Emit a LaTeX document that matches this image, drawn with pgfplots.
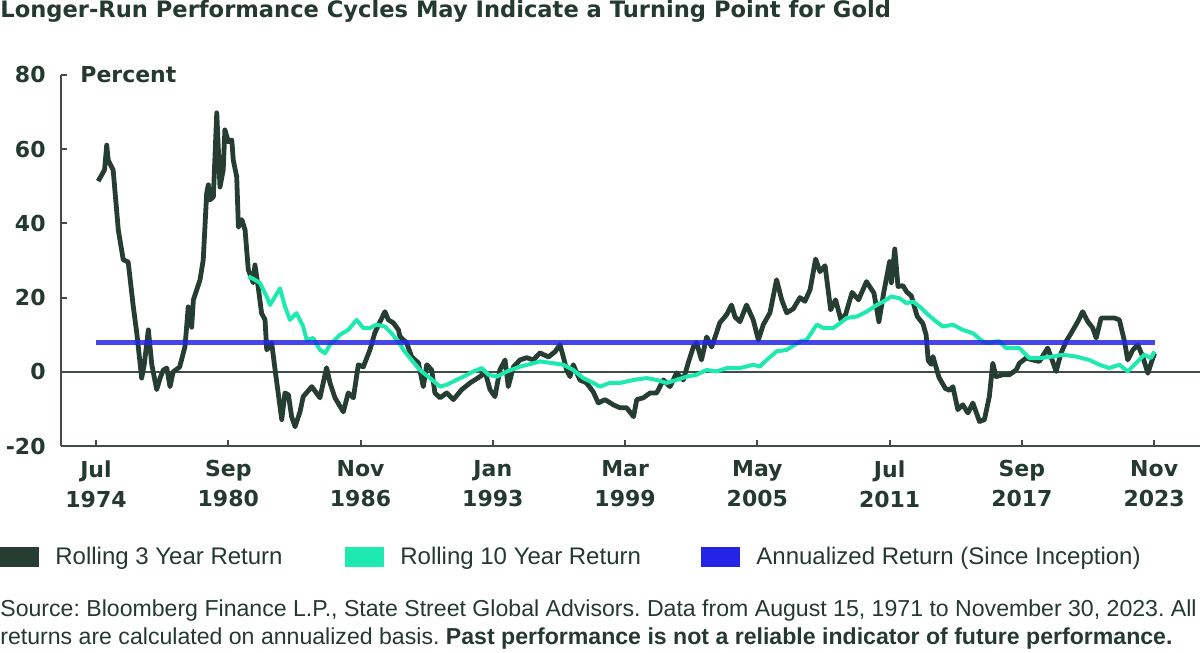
\documentclass[border=0pt]{standalone}
\usepackage{pgfplots}
\pgfplotsset{compat=1.18}
\usepackage{fontspec}
\setmainfont{Liberation Sans}
\newfontfamily\boldf{DejaVu Sans}
\frenchspacing
\definecolor{darkg}{HTML}{263D32}
\definecolor{tealg}{HTML}{1EEAB0}
\definecolor{blueg}{HTML}{2424E6}
\definecolor{txt}{HTML}{24392F}
\definecolor{axc}{HTML}{3E4E46}
\begin{document}
\begin{tikzpicture}
\useasboundingbox (0,0) rectangle (600pt,326.5pt);
\begin{axis}[
  at={(30.5pt,103.5pt)}, anchor=south west,
  scale only axis, width=569.5pt, height=185.5pt,
  xmin=1972.868, xmax=2025.97, ymin=-20, ymax=80,
  axis x line*=bottom, axis y line*=left,
  axis line style={-, axc, line width=1pt},
  tick style={axc, line width=1pt}, major tick length=3pt,
  tick align=inside,
  ytick={-20,0,20,40,60,80},
  yticklabels={-20,0,20,40,60,80},
  yticklabel style={inner sep=0pt, xshift=-7.5pt, font=\boldf\fontsize{11}{13}\selectfont\bfseries, text=txt},
  xtick={1974.5,1980.6667,1986.8333,1993.0,1999.1667,2005.3333,2011.5,2017.6667,2023.8333},
  xticklabels={{Jul\\1974},{Sep\\1980},{Nov\\1986},{Jan\\1993},{Mar\\1999},{May\\2005},{Jul\\2011},{Sep\\2017},{Nov\\2023}},
  xticklabel style={anchor=north, inner sep=0pt, yshift=-7pt, align=center, font=\boldf\fontsize{11}{15}\selectfont\bfseries, text=txt},
  clip=false,
]
\addplot[axc, line width=0.9pt, forget plot] coordinates {(1972.868,0) (2025.97,0)};
\addplot[darkg, line width=2.4pt, line join=round] coordinates {
(1974.6,51.4)(1974.76,53)(1974.9,54.5)(1975.0,61.1)(1975.07,57)(1975.3,54.4)(1975.54,38.2)(1975.77,30.2)(1976.0,29.6)(1976.24,17.5)(1976.4,10.5)(1976.63,-1.7)(1976.75,2)(1976.94,11.3)(1977.1,2)(1977.33,-4.8)(1977.5,-1.5)(1977.64,0.5)(1977.8,1)(1977.95,-4)(1978.1,0)(1978.4,1.3)(1978.65,6.8)(1978.8,17.5)(1978.96,12)(1979.04,19.4)(1979.27,23.4)(1979.35,24.8)(1979.5,30.2)(1979.66,48.2)(1979.74,50.4)(1979.8,46.3)(1979.97,47.1)(1980.13,69.8)(1980.28,49.8)(1980.43,54.4)(1980.51,65.2)(1980.67,62)(1980.83,62.5)(1980.9,57.1)(1981.06,52.5)(1981.14,39)(1981.3,41)(1981.45,38.2)(1981.6,27.5)(1981.83,24)(1981.91,28.8)(1982.07,22.5)(1982.22,15.8)(1982.38,14)(1982.46,5.9)(1982.69,7.8)(1982.85,0.5)(1983.16,-12.9)(1983.31,-5.7)(1983.47,-6.2)(1983.62,-12.1)(1983.78,-14.8)(1984.01,-10.8)(1984.16,-6.7)(1984.56,-4)(1984.94,-7)(1985.25,1.1)(1985.41,-3)(1985.64,-7)(1986.03,-10.8)(1986.26,-5.7)(1986.5,-7)(1986.73,1.9)(1986.96,1.3)(1987.27,5.9)(1987.5,10.5)(1987.74,13.5)(1987.97,16.2)(1988.13,14)(1988.36,13.2)(1988.6,11.3)(1988.67,9.5)(1988.98,7.8)(1989.22,4)(1989.53,2.4)(1989.76,-4)(1989.92,1.9)(1990.15,0.5)(1990.3,-5.7)(1990.54,-7)(1990.85,-5.7)(1991.16,-7.5)(1991.55,-4.8)(1991.94,-3)(1992.4,-1.3)(1992.64,0)(1992.87,-4.8)(1993.1,-6.7)(1993.33,0.5)(1993.57,3.2)(1993.72,-4)(1993.96,1.3)(1994.27,3.2)(1994.58,3.8)(1994.89,3.2)(1995.2,5.1)(1995.59,4)(1995.9,5.4)(1996.13,7.3)(1996.29,4)(1996.44,0.5)(1996.6,-1.3)(1996.75,1.9)(1997.06,-2.2)(1997.37,-3)(1997.68,-5.4)(1997.92,-8.4)(1998.23,-7.5)(1998.62,-8.9)(1998.93,-9.7)(1999.24,-9.7)(1999.56,-12.1)(1999.71,-7.5)(2000.02,-7)(2000.33,-5.7)(2000.64,-5.7)(2000.95,-2.2)(2001.26,-4)(2001.57,-0.3)(2001.88,-2.2)(2002.11,2.4)(2002.35,6.7)(2002.5,7.8)(2002.73,3.2)(2002.97,9.4)(2003.2,6.7)(2003.43,10.5)(2003.58,13.2)(2003.9,15.4)(2004.13,18)(2004.29,14.8)(2004.52,13.5)(2004.83,18)(2005.14,14)(2005.38,8.6)(2005.61,12.7)(2005.92,15.9)(2006.23,24.8)(2006.47,19.4)(2006.7,15.9)(2007.01,17)(2007.32,20)(2007.55,19)(2007.79,22.1)(2008.05,30.4)(2008.25,27)(2008.49,28.6)(2008.75,16.7)(2008.98,19.4)(2009.23,14)(2009.45,15.5)(2009.75,21.4)(2010.05,19.4)(2010.42,24.3)(2010.77,21.2)(2011.0,13.5)(2011.22,21.2)(2011.5,29.7)(2011.58,24)(2011.74,33.1)(2011.89,23)(2012.12,23.2)(2012.3,21.5)(2012.51,20.5)(2012.78,15)(2013.05,13)(2013.2,10)(2013.3,3)(2013.45,2)(2013.52,4.1)(2013.8,-1.5)(2014.1,-4.5)(2014.3,-5)(2014.45,-4)(2014.68,-10.2)(2014.91,-8.9)(2015.15,-11.1)(2015.38,-8.4)(2015.69,-13.4)(2015.92,-12.9)(2016.15,-6.6)(2016.31,2.3)(2016.46,-1.3)(2016.77,-0.8)(2017.08,-0.8)(2017.4,0.5)(2017.55,2.3)(2017.86,3.7)(2018.17,3.2)(2018.48,2.8)(2018.87,6.4)(2019.1,2.8)(2019.26,0.1)(2019.49,5)(2019.73,8.2)(2019.96,10.4)(2020.27,13.5)(2020.5,16.2)(2020.74,13.5)(2020.97,11.8)(2021.13,9.1)(2021.36,14.5)(2021.67,14.5)(2021.98,14.5)(2022.21,14)(2022.45,8.2)(2022.6,3.2)(2022.84,5.9)(2023.07,7.3)(2023.3,4.1)(2023.54,-0.4)(2023.69,2.3)(2023.85,5)
};
\addplot[tealg, line width=2pt, line join=round] coordinates {
(1981.6,25.7)(1981.91,24.8)(1982.15,23.9)(1982.3,22.1)(1982.46,20.3)(1982.61,18)(1982.85,20.3)(1983.08,22.5)(1983.31,17.6)(1983.54,14)(1983.85,15.8)(1984.16,12.2)(1984.32,8.6)(1984.63,9.1)(1984.94,5.9)(1985.18,5)(1985.41,7.3)(1985.88,10)(1986.26,11.3)(1986.65,14)(1986.96,11.8)(1987.27,11.8)(1987.58,12.7)(1987.97,12.2)(1988.28,10.4)(1988.67,7.5)(1988.83,5.9)(1989.14,3.7)(1989.6,0.5)(1990.07,-1.7)(1990.54,-4)(1990.85,-3.5)(1991.16,-2.6)(1991.63,-1.3)(1992.1,0.1)(1992.49,1)(1992.8,-0.8)(1993.19,-1.3)(1993.66,0.1)(1994.27,1.4)(1994.89,2.3)(1995.2,2.8)(1995.82,2.3)(1996.29,1.9)(1996.75,0.5)(1997.22,-1.7)(1997.68,-3)(1997.99,-4)(1998.46,-3)(1998.93,-3)(1999.56,-2.2)(2000.17,-1.7)(2000.64,-2.2)(2001.1,-3)(2001.57,-2.2)(2002.04,-1.3)(2002.5,-0.8)(2002.97,0.5)(2003.43,0.1)(2003.9,1)(2004.52,1)(2005.14,1.9)(2005.45,1.4)(2005.77,3.2)(2006.23,5.5)(2006.7,5.9)(2007.32,8.2)(2007.63,8.6)(2008.1,12.7)(2008.41,11.8)(2008.88,11.8)(2009.19,13.1)(2009.5,14.5)(2009.97,14.9)(2010.42,16.2)(2010.9,18)(2011.2,18.9)(2011.58,20.3)(2011.97,19.8)(2012.28,18.5)(2012.59,18.9)(2012.9,17.6)(2013.29,15.4)(2013.68,13.5)(2013.99,12.2)(2014.45,12.7)(2014.91,11.3)(2015.38,10.4)(2015.84,8.2)(2016.15,7.7)(2016.46,8.2)(2016.62,8.2)(2016.93,6.4)(2017.55,6.4)(2018.01,3.7)(2018.48,3.7)(2019.1,4.1)(2019.57,4.6)(2020.19,4.1)(2020.81,3.2)(2021.28,1.9)(2021.74,1)(2022.21,1.9)(2022.6,0.1)(2022.98,2.3)(2023.37,4.6)(2023.68,3.7)(2023.85,5.5)
};
\addplot[blueg, line width=2.2pt, opacity=0.85] coordinates {(1974.5,7.9) (2023.85,7.9)};
\end{axis}
\begin{scope}[x=0.5pt,y=0.5pt]
% title
\node[anchor=base west, inner sep=0pt, text=txt, font=\boldf\fontsize{11.3}{13}\selectfont\bfseries] at (0,635) {Longer-Run Performance Cycles May Indicate a Turning Point for Gold};
% Percent
\node[anchor=base west, inner sep=0pt, text=txt, font=\boldf\fontsize{11}{13}\selectfont\bfseries] at (80,570) {Percent};
% legend
\fill[darkg] (0,86) rectangle (39,106);
\node[anchor=base west, inner sep=0pt, text=txt, font=\fontsize{12}{14}\selectfont] at (55,88) {Rolling 3 Year Return};
\fill[tealg] (345,86) rectangle (384,106);
\node[anchor=base west, inner sep=0pt, text=txt, font=\fontsize{12}{14}\selectfont] at (400,88) {Rolling 10 Year Return};
\fill[blueg] (701,86) rectangle (740,106);
\node[anchor=base west, inner sep=0pt, text=txt, font=\fontsize{12}{14}\selectfont] at (756,88) {Annualized Return (Since Inception)};
% source
\node[anchor=base west, inner sep=0pt, text=txt, font=\fontsize{11.55}{13}\selectfont] at (0,36) {Source: Bloomberg Finance L.P., State Street Global Advisors. Data from August 15, 1971 to November 30, 2023. All};
\node[anchor=base west, inner sep=0pt, text=txt, font=\fontsize{11.55}{13}\selectfont] at (0,8) {returns are calculated on annualized basis. \textbf{Past performance is not a reliable indicator of future performance.}};
\end{scope}
\end{tikzpicture}
\end{document}
